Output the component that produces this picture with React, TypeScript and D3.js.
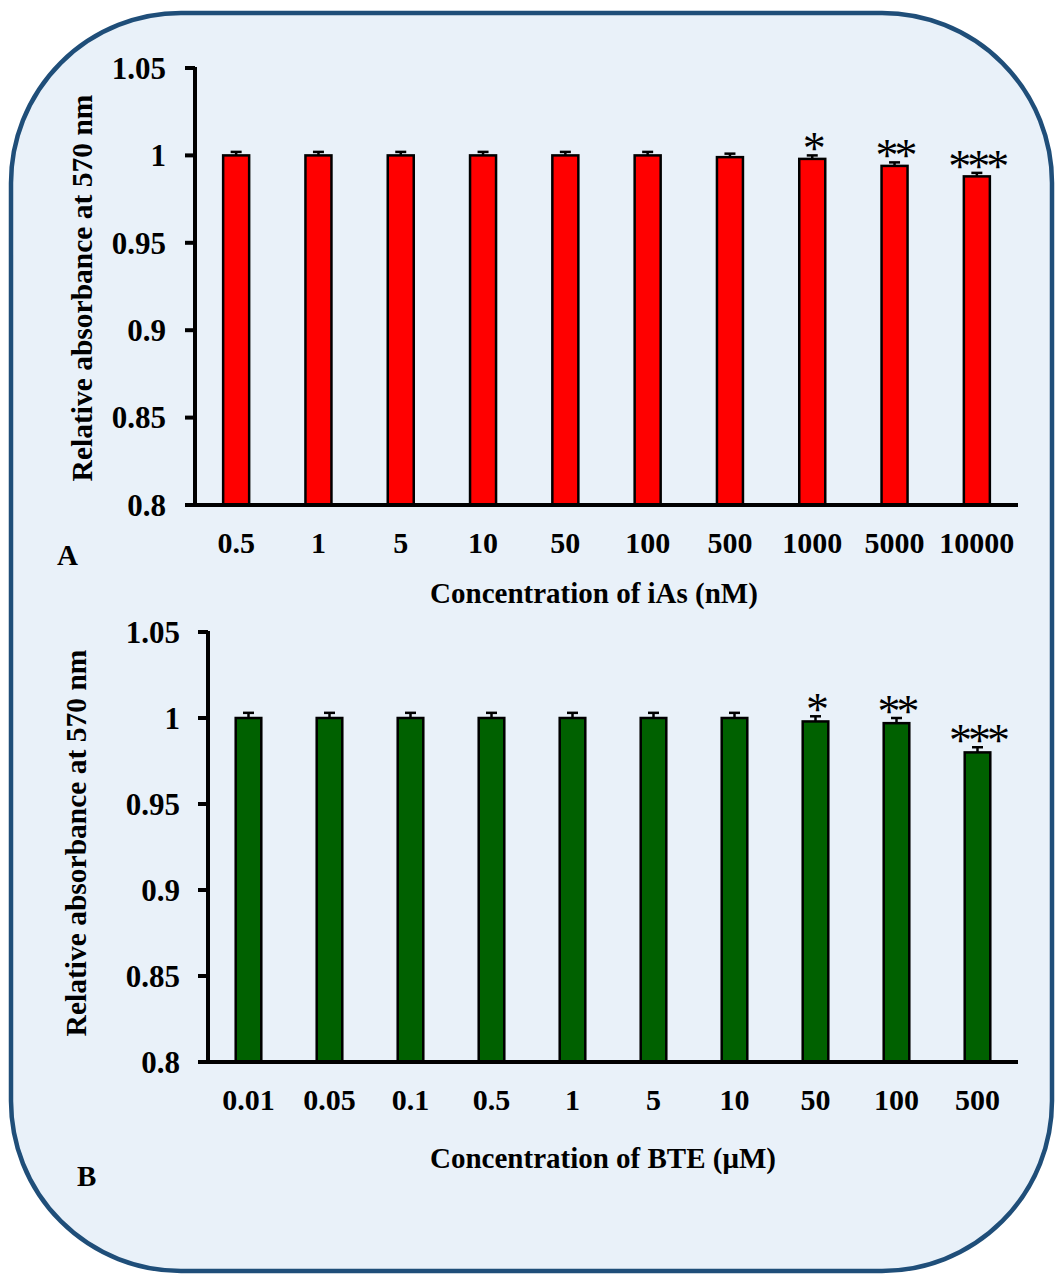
import React from "react";
import * as d3 from "d3";

const catsA = ["0.5", "1", "5", "10", "50", "100", "500", "1000", "5000", "10000"];
const valsA = [1.0, 1.0, 1.0, 1.0, 1.0, 1.0, 0.999, 0.998, 0.994, 0.988];
const errA = [0.002, 0.002, 0.002, 0.002, 0.002, 0.002, 0.002, 0.002, 0.002, 0.002];
const sigA = ["", "", "", "", "", "", "", "*", "**", "***"];

const catsB = ["0.01", "0.05", "0.1", "0.5", "1", "5", "10", "50", "100", "500"];
const valsB = [1.0, 1.0, 1.0, 1.0, 1.0, 1.0, 1.0, 0.998, 0.997, 0.98];
const errB = [0.003, 0.003, 0.003, 0.003, 0.003, 0.003, 0.003, 0.003, 0.003, 0.003];
const sigB = ["", "", "", "", "", "", "", "*", "**", "***"];

const yTicks = [0.8, 0.85, 0.9, 0.95, 1, 1.05];
const yTickLabels = ["0.8", "0.85", "0.9", "0.95", "1", "1.05"];

const FONT = "'Liberation Serif', 'Times New Roman', serif";

type PanelProps = {
  cats: string[];
  vals: number[];
  errs: number[];
  sig: string[];
  color: string;
  x0: number;
  x1: number;
  yTop: number;
  yBot: number;
  tickLabelRight: number;
  xLabelBaseline: number;
  xTitle: string;
  xTitleX: number;
  xTitleBaseline: number;
  yTitleX: number;
  yTitleY: number;
  letter: string;
  letterX: number;
  letterY: number;
};

function Panel(p: PanelProps) {
  const x = d3.scaleBand<string>().domain(p.cats).range([p.x0, p.x1]).paddingInner(0.684).paddingOuter(0.342);
  const y = d3.scaleLinear().domain([0.8, 1.05]).range([p.yBot, p.yTop]);
  const bw = x.bandwidth();
  const capW = 11;
  return (
    <g>
      {p.cats.map((c, i) => {
        const cx = (x(c) as number) + bw / 2;
        const top = y(p.vals[i]);
        const et = y(p.vals[i] + p.errs[i]);
        return (
          <g key={c}>
            <line x1={cx} x2={cx} y1={top} y2={et} stroke="#000" strokeWidth={2.5} />
            <line x1={cx - capW / 2} x2={cx + capW / 2} y1={et} y2={et} stroke="#000" strokeWidth={2.5} />
            <rect x={x(c)} y={top} width={bw} height={p.yBot - top} fill={p.color} stroke="#000" strokeWidth={2.5} />
            {p.sig[i] && (
              <text x={cx} y={et + 9} textAnchor="middle" fontFamily={FONT} fontSize={46} letterSpacing={-4} fill="#000">
                {p.sig[i]}
              </text>
            )}
            <text x={cx} y={p.xLabelBaseline} textAnchor="middle" fontFamily={FONT} fontWeight="bold" fontSize={30} fill="#000">
              {c}
            </text>
          </g>
        );
      })}
      {/* y axis */}
      <line x1={p.x0} x2={p.x0} y1={p.yTop - 1} y2={p.yBot + 2} stroke="#000" strokeWidth={4} />
      {yTicks.map((t, i) => (
        <g key={t}>
          <line x1={p.x0 - 10} x2={p.x0} y1={y(t)} y2={y(t)} stroke="#000" strokeWidth={4} />
          <text x={p.tickLabelRight} y={y(t)} dy="0.35em" textAnchor="end" fontFamily={FONT} fontWeight="bold" fontSize={31} fill="#000">
            {yTickLabels[i]}
          </text>
        </g>
      ))}
      {/* x axis */}
      <line x1={p.x0 - 10} x2={p.x1} y1={p.yBot} y2={p.yBot} stroke="#000" strokeWidth={4} />
      <text x={p.xTitleX} y={p.xTitleBaseline} textAnchor="middle" fontFamily={FONT} fontWeight="bold" fontSize={29} fill="#000">
        {p.xTitle}
      </text>
      <text
        transform={`translate(${p.yTitleX},${p.yTitleY}) rotate(-90)`}
        textAnchor="middle"
        fontFamily={FONT}
        fontWeight="bold"
        fontSize={29.5}
        fill="#000"
      >
        Relative absorbance at 570 nm
      </text>
      <text x={p.letterX} y={p.letterY} fontFamily={FONT} fontWeight="bold" fontSize={29} fill="#000">
        {p.letter}
      </text>
    </g>
  );
}

export default function App() {
  return (
    <svg width={1062} height={1274} style={{ position: "absolute", left: 0, top: 0 }}>
      <rect x={0} y={0} width={1062} height={1274} fill="#fff" />
      <rect x={11} y={13} width={1041} height={1258} rx={170} ry={170} fill="#e9f1f9" stroke="#1f4e79" strokeWidth={4.5} />
      <Panel
        cats={catsA}
        vals={valsA}
        errs={errA}
        sig={sigA}
        color="#ff0000"
        x0={195}
        x1={1018}
        yTop={68}
        yBot={505}
        tickLabelRight={166}
        xLabelBaseline={553}
        xTitle="Concentration of iAs (nM)"
        xTitleX={594}
        xTitleBaseline={603}
        yTitleX={92}
        yTitleY={288}
        letter="A"
        letterX={57}
        letterY={565}
      />
      <Panel
        cats={catsB}
        vals={valsB}
        errs={errB}
        sig={sigB}
        color="#006100"
        x0={208}
        x1={1018}
        yTop={632}
        yBot={1062}
        tickLabelRight={180}
        xLabelBaseline={1110}
        xTitle="Concentration of BTE (μM)"
        xTitleX={603}
        xTitleBaseline={1168}
        yTitleX={86}
        yTitleY={843}
        letter="B"
        letterX={77}
        letterY={1186}
      />
    </svg>
  );
}
